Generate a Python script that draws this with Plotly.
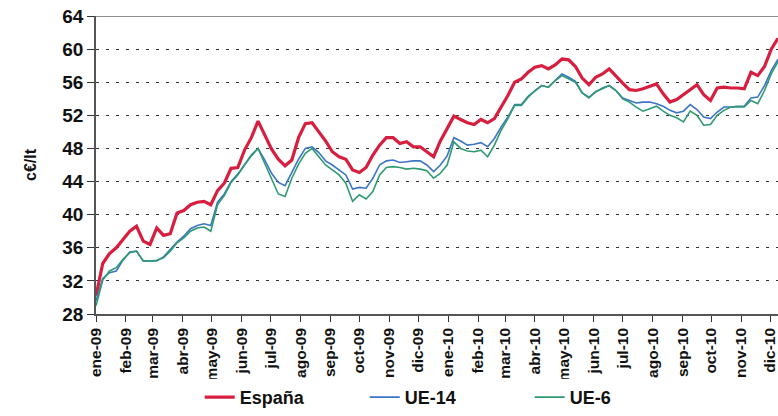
import pandas as pd
import plotly.graph_objects as go

# Weekly fuel prices (c€/lt), starting 1 Jan 2009
start_date = "2009-01-01"

espana = [30.2, 34.1, 35.3, 36.0, 37.0, 38.0, 38.6, 36.8, 36.4, 38.4,
          37.5, 37.7, 40.2, 40.5, 41.2, 41.5, 41.6, 41.2, 42.9, 43.8,
          45.6, 45.7, 47.8, 49.3, 51.3, 49.7, 47.9, 46.7, 45.9, 46.6,
          49.3, 51.0, 51.1, 50.0, 48.9, 47.6, 47.0, 46.7, 45.4, 45.1,
          45.7, 47.2, 48.4, 49.3, 49.3, 48.6, 48.8, 48.2, 48.2, 47.6,
          47.0, 48.9, 50.5, 51.9, 51.5, 51.1, 50.9, 51.5, 51.1, 51.6,
          53.0, 54.4, 56.0, 56.4, 57.2, 57.8, 58.0, 57.6, 58.1, 58.8,
          58.7, 57.9, 56.5, 55.7, 56.6, 57.0, 57.6, 56.7, 55.9, 55.1,
          55.0, 55.2, 55.5, 55.8, 54.6, 53.6, 53.9, 54.5, 55.1, 55.7,
          54.5, 53.8, 55.3, 55.4, 55.3, 55.3, 55.2, 57.2, 56.8, 57.9,
          60.0, 61.3]

ue14 = [29.6, 32.3, 33.0, 33.2, 34.5, 35.5, 35.6, 34.4, 34.4, 34.4,
        34.9, 35.8, 36.7, 37.4, 38.3, 38.7, 38.9, 38.7, 41.5, 42.5,
        44.0, 44.9, 46.1, 47.2, 48.0, 46.6, 45.0, 43.9, 43.5, 45.2,
        46.7, 48.0, 48.2, 47.5, 46.5, 46.0, 45.4, 44.8, 43.1, 43.3,
        43.2, 44.4, 46.0, 46.5, 46.6, 46.3, 46.4, 46.5, 46.5, 46.0,
        45.2, 46.0, 47.1, 49.3, 48.9, 48.4, 48.5, 48.7, 48.2, 49.2,
        50.6, 51.8, 53.3, 53.3, 54.3, 55.0, 55.6, 55.4, 56.2, 57.0,
        56.6, 56.1, 54.7, 54.2, 54.8, 55.3, 55.6, 55.0, 54.1, 53.8,
        53.5, 53.6, 53.6, 53.4, 53.1, 52.6, 52.3, 52.5, 53.3, 52.7,
        51.8, 51.6, 52.4, 53.0, 53.0, 53.1, 53.1, 54.1, 54.2, 55.6,
        57.4, 58.8]

ue6 = [29.0, 32.1, 33.2, 33.6, 34.6, 35.4, 35.6, 34.4, 34.4, 34.5,
       34.8, 35.6, 36.6, 37.2, 38.0, 38.4, 38.5, 38.0, 41.2, 42.3,
       43.9, 44.8, 46.0, 47.1, 48.0, 46.2, 44.2, 42.5, 42.2, 44.4,
       46.1, 47.4, 48.0, 47.0, 46.0, 45.4, 44.8, 43.8, 41.6, 42.4,
       41.9, 42.8, 44.8, 45.7, 45.8, 45.7, 45.5, 45.6, 45.5, 45.3,
       44.4, 45.0, 46.0, 48.8, 48.0, 47.7, 47.6, 47.8, 47.0, 48.4,
       50.2, 51.6, 53.2, 53.2, 54.2, 55.0, 55.6, 55.4, 56.2, 56.8,
       56.4, 56.0, 54.7, 54.1, 54.9, 55.2, 55.6, 55.0, 54.0, 53.6,
       53.0, 52.5, 52.8, 53.1, 52.5, 52.0, 51.7, 51.2, 52.5, 52.0,
       50.8, 50.9, 52.0, 52.6, 53.0, 53.0, 53.0, 53.8, 53.4, 55.0,
       57.0, 58.5]

dates = pd.date_range(start_date, periods=len(espana), freq="7D")

month_ticks = pd.date_range("2009-01-01", "2010-12-01", freq="MS")
month_names = ["ene", "feb", "mar", "abr", "may", "jun",
               "jul", "ago", "sep", "oct", "nov", "dic"]
tick_labels = [f"{month_names[d.month - 1]}-{d.strftime('%y')}" for d in month_ticks]

y_ticks = list(range(28, 65, 4))

series = [
    ("España", espana, "#D81E3F", 3.2),
    ("UE-14", ue14, "#3C74C8", 1.6),
    ("UE-6", ue6, "#2E9A70", 1.6),
]

fig = go.Figure()
for name, values, color, width in series:
    fig.add_trace(go.Scatter(
        x=dates, y=values, name=name, mode="lines",
        line=dict(color=color, width=width),
    ))

bold = "Liberation Sans, Arial, sans-serif"

fig.update_layout(
    width=778, height=416,
    margin=dict(l=96, r=0, t=16, b=98),
    paper_bgcolor="white", plot_bgcolor="white",
    font=dict(family=bold, color="#111111"),
    showlegend=True,
    legend=dict(
        orientation="h", x=0.515, xanchor="center", y=-0.28, yanchor="middle",
        font=dict(size=18, family=bold, weight="bold"),
        entrywidth=120, traceorder="normal",
    ),
    xaxis=dict(
        type="date",
        range=[pd.Timestamp("2009-01-01"), dates[-1]],
        tickvals=month_ticks, ticktext=tick_labels,
        tickangle=-90,
        tickfont=dict(size=15.5, family=bold, weight="bold"),
        ticklabeloverflow="allow",
        ticks="outside", ticklen=6, tickcolor="#333333",
        showline=True, linecolor="#555555", linewidth=1.5,
        showgrid=False, zeroline=False,
    ),
    yaxis=dict(
        range=[28, 64],
        tickvals=y_ticks,
        tickfont=dict(size=19, family=bold, weight="bold"),
        ticks="outside", ticklen=7, tickcolor="#333333",
        showline=True, linecolor="#555555", linewidth=1.5,
        showgrid=True, gridcolor="#333333", gridwidth=1.2,
        griddash="3px,7px",
        zeroline=False,
        title=dict(text="c€/lt", standoff=22,
                   font=dict(size=16, family=bold, weight="bold")),
    ),
)

# Solid frame line along the top of the plot area
fig.add_shape(type="line", xref="paper", yref="y", x0=0, x1=1, y0=64, y1=64,
              line=dict(color="#666666", width=1.5))

fig.write_html("out.html")
